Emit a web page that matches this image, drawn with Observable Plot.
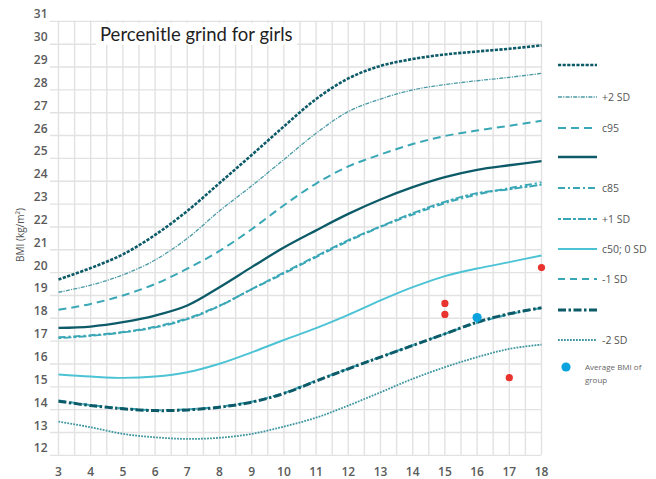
<!DOCTYPE html>
<html>
<head>
<meta charset="utf-8">
<script src="https://cdn.jsdelivr.net/npm/d3@7"></script>
<script src="https://cdn.jsdelivr.net/npm/@observablehq/plot@0.6"></script>
<style>
  html, body { margin: 0; padding: 0; background: #fff; }
  #wrap { position: relative; width: 656px; height: 479px; overflow: hidden; font-family: "Open Sans", sans-serif; }
  #title { position: absolute; left: 96px; top: 23px; background: #fff; padding: 0 4px; font-family: Lato, sans-serif; font-size: 18.5px; color: #1f1f1f; line-height: 22px; }
  #ylab { position: absolute; left: 20px; top: 235px; transform: translate(-50%, -50%) rotate(-90deg); font-size: 10px; color: #555; white-space: nowrap; }
  .leg { position: absolute; left: 557px; height: 14px; display: flex; align-items: center; font-size: 10.5px; color: #555; white-space: nowrap; }
  .leg svg { display: block; margin-right: 3px; }
  .leg.small { font-size: 8px; color: #666; align-items: flex-start; line-height: 13px; }
</style>
</head>
<body>
<div id="wrap">
  <div id="chart"></div>
  <div id="title">Percenitle grind for girls</div>
  <div id="ylab">BMI (kg/m²)</div>
  <div id="legend"></div>
</div>
<script>
// ---- data ----
const ages = [3, 4, 5, 6, 7, 8, 9, 10, 11, 12, 13, 14, 15, 16, 17, 18];
const sdPlus3 = [19.4, 19.9, 20.5, 21.35, 22.4, 23.62, 24.85, 26.1, 27.3, 28.2, 28.75, 29.05, 29.25, 29.38, 29.5, 29.65];
const sdPlus2 = [18.84, 19.15, 19.6, 20.25, 21.2, 22.4, 23.5, 24.65, 25.8, 26.75, 27.3, 27.7, 27.93, 28.1, 28.25, 28.42];
const c95 = [18.07, 18.33, 18.7, 19.2, 19.87, 20.65, 21.6, 22.65, 23.6, 24.35, 24.87, 25.33, 25.68, 25.92, 26.13, 26.35];
const cDark = [17.28, 17.34, 17.53, 17.82, 18.26, 19.06, 19.94, 20.8, 21.55, 22.27, 22.9, 23.44, 23.88, 24.2, 24.4, 24.58];
const c85 = [16.87, 16.96, 17.1, 17.33, 17.7, 18.25, 18.97, 19.66, 20.38, 21.08, 21.7, 22.24, 22.74, 23.12, 23.4, 23.65];
const sdPlus1 = [16.83, 16.93, 17.08, 17.3, 17.66, 18.24, 18.98, 19.7, 20.42, 21.12, 21.72, 22.3, 22.8, 23.18, 23.35, 23.55];
const c50 = [15.24, 15.15, 15.09, 15.15, 15.34, 15.71, 16.21, 16.75, 17.27, 17.85, 18.48, 19.06, 19.55, 19.88, 20.16, 20.45];
const sdMinus1 = [14.1, 13.9, 13.76, 13.68, 13.71, 13.83, 14.05, 14.43, 14.97, 15.5, 16.01, 16.52, 17.02, 17.5, 17.88, 18.15];
const cDarkLow = [14.07, 13.88, 13.74, 13.66, 13.69, 13.81, 14.03, 14.41, 14.95, 15.49, 16.0, 16.51, 17.02, 17.53, 17.9, 18.16];
const sdMinus2 = [13.18, 12.93, 12.64, 12.49, 12.42, 12.47, 12.64, 12.96, 13.35, 13.88, 14.46, 15.05, 15.56, 16.0, 16.36, 16.55];

const pointAges = [15, 15, 17, 18];
const pointBmi = [18.35, 17.87, 15.1, 19.92];
const avgAge = [16];
const avgBmi = [17.73];

const xTicks = [3, 4, 5, 6, 7, 8, 9, 10, 11, 12, 13, 14, 15, 16, 17, 18];
const yTicks = [12, 13, 14, 15, 16, 17, 18, 19, 20, 21, 22, 23, 24, 25, 26, 27, 28, 29, 30, 31];

const seriesNames = ["sdPlus3", "sdPlus2", "c95", "cDark", "c85", "sdPlus1", "c50", "sdMinus1", "cDarkLow", "sdMinus2"];
const seriesValues = [sdPlus3, sdPlus2, c95, cDark, c85, sdPlus1, c50, sdMinus1, cDarkLow, sdMinus2];
const legendLabels = ["", "+2 SD", "c95", "", "c85", "+1 SD", "c50; 0 SD", "-1 SD", "", "-2 SD"];

// ---- styles ----
const DARK = "#0d5b68", MID = "#3aa7b6", LIGHT = "#4cc3d4", DOT = "#3f96a1";
const styles = {
  sdPlus3:  {stroke: DARK,  strokeWidth: 2.6, strokeDasharray: "3.2,1.4"},
  sdPlus2:  {stroke: "#4a9aa5", strokeWidth: 1.3, strokeDasharray: "4,1.2,1.2,1.2"},
  c95:      {stroke: MID,   strokeWidth: 2.0, strokeDasharray: "8,5"},
  cDark:    {stroke: DARK,  strokeWidth: 2.3},
  c85:      {stroke: MID,   strokeWidth: 1.9, strokeDasharray: "7,3,2,3"},
  sdPlus1:  {stroke: MID,   strokeWidth: 1.9, strokeDasharray: "3,2,8,2"},
  c50:      {stroke: LIGHT, strokeWidth: 1.9},
  sdMinus1: {stroke: MID,   strokeWidth: 2.0, strokeDasharray: "7,5"},
  cDarkLow: {stroke: DARK,  strokeWidth: 3.0, strokeDasharray: "8,2.5,2.5,2.5"},
  sdMinus2: {stroke: DOT,   strokeWidth: 1.8, strokeDasharray: "1.8,1.2"}
};

// ---- layout ----
const W = 656, H = 479;
const x0px = 58, x1px = 541;
const yTopVal = 31.3, yBotVal = 11.6;
const pxPerUnit = 22.84;
const yTopPx = 14 - (yTopVal - 31) * pxPerUnit;
const yBotPx = 448 + (12 - yBotVal) * pxPerUnit;
const gridOffset = 0.3;

const rows = seriesNames.map((name, k) => ages.map((a, i) => ({age: a, bmi: seriesValues[k][i], name})));
const halfYears = d3.range(xTicks[0], xTicks[xTicks.length - 1] + 0.01, 0.5);
const gridY = yTicks.map(v => v - gridOffset);
const gridYLow = gridY[0], gridYHigh = gridY[gridY.length - 1];

const marks = [
  Plot.ruleX(halfYears, {y1: gridYLow, y2: gridYHigh, stroke: "#e2e2e2", strokeWidth: 1.4}),
  Plot.ruleY(gridY, {x1: xTicks[0] - 0.25, x2: xTicks[xTicks.length - 1], stroke: "#e2e2e2", strokeWidth: 1.4}),
  Plot.axisX(xTicks, {tickSize: 0, tickPadding: 10, fontSize: 12, fontWeight: 600, fill: "#5a5a5a", label: null}),
  Plot.axisY(yTicks, {tickSize: 0, tickPadding: 11, fontSize: 12, fontWeight: 600, fill: "#5a5a5a", label: null}),
];
rows.forEach((r, k) => {
  marks.push(Plot.line(r, {x: "age", y: "bmi", curve: "catmull-rom", strokeLinecap: "butt", ...styles[seriesNames[k]]}));
});
marks.push(Plot.dot(pointAges.map((a, i) => ({age: a, bmi: pointBmi[i]})), {x: "age", y: "bmi", r: 3.6, fill: "#e8332f", stroke: "none"}));
marks.push(Plot.dot(avgAge.map((a, i) => ({age: a, bmi: avgBmi[i]})), {x: "age", y: "bmi", r: 4.6, fill: "#0aa3de", stroke: "none"}));

const chart = Plot.plot({
  width: W, height: H,
  marginLeft: x0px, marginRight: W - x1px,
  marginTop: yTopPx, marginBottom: H - yBotPx,
  style: {fontFamily: "'Open Sans', sans-serif", background: "#fff", overflow: "visible"},
  x: {domain: [xTicks[0], xTicks[xTicks.length - 1]], axis: null},
  y: {domain: [yBotVal, yTopVal], axis: null},
  marks
});
document.getElementById("chart").appendChild(chart);

// ---- legend ----
const legendTops = [58, 90, 121, 150, 181, 212, 242, 272, 303, 333];
const legend = document.getElementById("legend");
seriesNames.forEach((name, k) => {
  const s = styles[name];
  const div = document.createElement("div");
  div.className = "leg";
  div.style.top = legendTops[k] + "px";
  const svg = d3.create("svg").attr("width", 42).attr("height", 10);
  svg.append("line").attr("x1", 1).attr("x2", 40).attr("y1", 5).attr("y2", 5)
    .attr("stroke", s.stroke).attr("stroke-width", s.strokeWidth)
    .attr("stroke-dasharray", s.strokeDasharray || null);
  div.appendChild(svg.node());
  const sp = document.createElement("span");
  sp.textContent = legendLabels[k];
  div.appendChild(sp);
  legend.appendChild(div);
});
const avg = document.createElement("div");
avg.className = "leg small";
avg.style.top = "360px";
avg.style.left = "560px";
const asvg = d3.create("svg").attr("width", 22).attr("height", 14);
asvg.append("circle").attr("cx", 6).attr("cy", 7).attr("r", 4.6).attr("fill", "#0aa3de");
avg.appendChild(asvg.node());
const at = document.createElement("span");
at.innerHTML = "Average BMI of<br>group";
avg.appendChild(at);
legend.appendChild(avg);
</script>
</body>
</html>
